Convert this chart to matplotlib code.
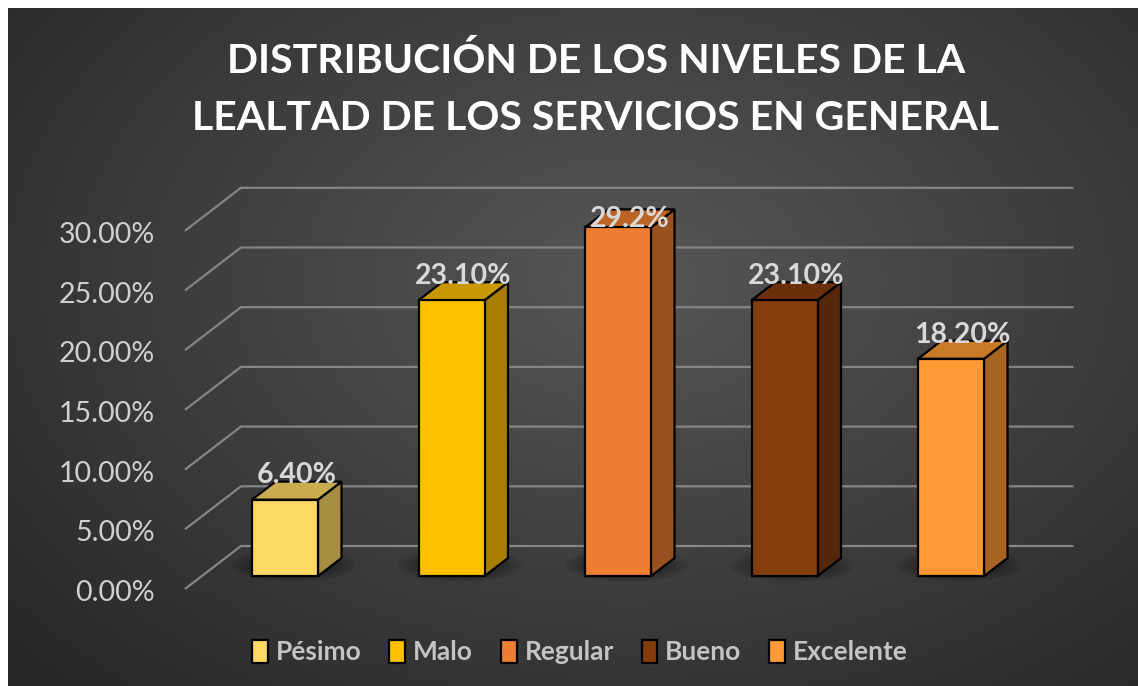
import numpy as np
import matplotlib.pyplot as plt
from matplotlib.patches import Polygon, Patch, Ellipse

# data
categories = ["Pésimo", "Malo", "Regular", "Bueno", "Excelente"]
values = [6.40, 23.10, 29.20, 23.10, 18.20]
value_labels = ["6.40%", "23.10%", "29.2%", "23.10%", "18.20%"]
yticks = [0, 5, 10, 15, 20, 25, 30]

# colours (front, side, top)
front_colors = ["#FFD966", "#FFC000", "#ED7D31", "#843C0C", "#FF9933"]
side_colors = ["#A68D42", "#A67D00", "#9A5120", "#562708", "#A66321"]
top_colors = ["#C9AB50", "#C99700", "#BD6427", "#69300A", "#C97A29"]

W, H = 1138, 686
# pixel layout of the fake 3d front plane
PX_PER_CAT = 166.5
X0_PX = 268.2
PX_PER_PCT = 11.94
Y0_PX = 589.0
# depth (0 = front of floor, 1 = back wall)
DX = 56.0 / PX_PER_CAT
DY = 43.0 / PX_PER_PCT
D_FRONT, D_BACK = 0.30, 0.72
HALF_W = 33.0 / PX_PER_CAT

fig = plt.figure(figsize=(W / 100, H / 100), dpi=100)
fig.patch.set_facecolor("white")

# background: radial gradient
bg = fig.add_axes([8 / W, 0, 1 - 8 / W, 1 - 8 / H])
gx, gy = np.meshgrid(np.linspace(0, 1, 400), np.linspace(0, 1, 260))
r = np.sqrt(((gx - 0.55) / 0.75) ** 2 + ((gy - 0.40) / 0.85) ** 2)
r = np.clip(r, 0, 1)
c_in, c_out = np.array([0.34, 0.34, 0.34]), np.array([0.15, 0.15, 0.15])
img = c_in[None, None, :] * (1 - r[..., None]) + c_out[None, None, :] * r[..., None]
bg.imshow(img, aspect="auto", extent=(0, 1, 0, 1), origin="upper")
bg.axis("off")

ax = fig.add_axes([0, 0, 1, 1])
ax.set_xlim(-X0_PX / PX_PER_CAT, (W - X0_PX) / PX_PER_CAT)
ax.set_ylim((Y0_PX - H) / PX_PER_PCT, Y0_PX / PX_PER_PCT)
ax.axis("off")

n = len(categories)
grid_col = "#858585"
x_left = -0.5
x_right = n - 0.5
for v in yticks:
    # side-wall diagonal + back wall line
    ax.plot([x_left, x_left + DX, x_right + DX], [v, v + DY, v + DY],
            color=grid_col, lw=1.6, zorder=1, solid_capstyle="butt")
    ax.text(x_left - 0.18, v - 0.35, f"{v:.2f}%", ha="right", va="center",
            fontsize=20.5, color="#d0d0d0", family="Lato")

for i, (v, lab) in enumerate(zip(values, value_labels)):
    xc = i + D_FRONT * DX
    xl, xr = xc - HALF_W, xc + HALF_W
    yb = D_FRONT * DY
    yt = v + D_FRONT * DY
    dd = D_BACK - D_FRONT
    ddx, ddy = dd * DX, dd * DY

    # soft shadow on the floor
    for k in range(7):
        ax.add_patch(Ellipse((xc + 0.05, yb + 0.9), width=0.74 - 0.07 * k,
                             height=2.8 - 0.3 * k, color="black", alpha=0.08,
                             lw=0, zorder=2))

    front = Polygon([(xl, yb), (xr, yb), (xr, yt), (xl, yt)], closed=True,
                    facecolor=front_colors[i], edgecolor="black", lw=1.6, zorder=4)
    side = Polygon([(xr, yb), (xr + ddx, yb + ddy), (xr + ddx, yt + ddy), (xr, yt)],
                   closed=True, facecolor=side_colors[i], edgecolor="black",
                   lw=1.6, zorder=3)
    top = Polygon([(xl, yt), (xr, yt), (xr + ddx, yt + ddy), (xl + ddx, yt + ddy)],
                  closed=True, facecolor=top_colors[i], edgecolor="black",
                  lw=1.6, zorder=3)
    for p in (side, top, front):
        ax.add_patch(p)

    ly = min(v + D_BACK * DY - 0.15, 30.3)
    ax.text(xc + ddx / 2, ly, lab, ha="center", va="baseline", fontsize=20.5,
            fontweight="bold", color="#d9d9d9", family="Lato", zorder=6)

# title
fig.text(596 / W, 1 - 61 / H, "DISTRIBUCIÓN DE LOS NIVELES DE LA",
         ha="center", va="center", fontsize=29.5, fontweight="bold",
         color="white", family="Lato")
fig.text(596 / W, 1 - 118 / H, "LEALTAD DE LOS SERVICIOS EN GENERAL",
         ha="center", va="center", fontsize=29.5, fontweight="bold",
         color="white", family="Lato")

handles = [Patch(facecolor=c, edgecolor="black", lw=1.6) for c in front_colors]
leg = ax.legend(handles, categories, loc="center", ncol=n,
                bbox_to_anchor=(580 / W, 1 - 652 / H),
                bbox_transform=fig.transFigure, frameon=False,
                handlelength=0.6, handleheight=0.95, handletextpad=0.3,
                columnspacing=1.05,
                prop={"family": "Lato", "weight": "bold", "size": 19})
for t in leg.get_texts():
    t.set_color("#c4c4c4")

fig.savefig("out.png", dpi=100)
